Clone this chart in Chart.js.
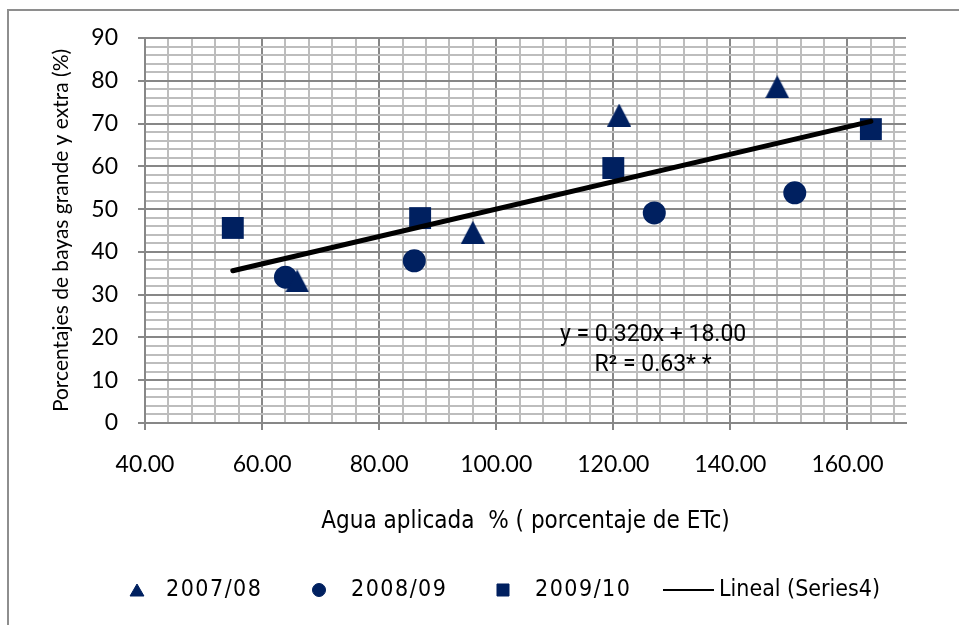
<!DOCTYPE html>
<html><head><meta charset="utf-8">
<script src="https://cdn.jsdelivr.net/npm/chart.js@4.4.1/dist/chart.umd.min.js"></script>
<style>html,body{margin:0;padding:0;background:#fff;overflow:hidden}canvas{display:block}</style>
</head><body>
<canvas id="c" width="959" height="625"></canvas>
<script>
// ---- data ----
const seriesNames = ['2007/08', '2008/09', '2009/10', 'Lineal (Series4)'];
const x0708 = [66, 96, 121, 148];
const y0708 = [33.2, 44.6, 72, 78.6];
const x0809 = [64, 86, 127, 151];
const y0809 = [34.1, 37.9, 49.1, 53.8];
const x0910 = [55, 87, 120, 164];
const y0910 = [45.6, 47.9, 59.6, 68.7];
const trendX = [55, 164];
const trendY = [35.6, 70.5];
const xTickLabels = ['40.00', '60.00', '80.00', '100.00', '120.00', '140.00', '160.00'];
const yTickLabels = ['0', '10', '20', '30', '40', '50', '60', '70', '80', '90'];
const equationLines = ['y = 0.320x + 18.00', 'R\u00B2 = 0.63* *'];
const xTitle = 'Agua aplicada  % ( porcentaje de ETc)';
const yTitle = 'Porcentajes de bayas grande y extra (%)';

const NAVY = '#002060';
const MAJOR = '#878787';
const MINOR = '#bdbdbd';

function pts(xs, ys) { return xs.map((x, i) => ({x: x, y: ys[i]})); }

// Excel-like triangle marker, centred on its bounding box
function triangleMarker(w, h) {
  const cv = document.createElement('canvas');
  cv.width = w; cv.height = h;
  const g = cv.getContext('2d');
  g.fillStyle = NAVY;
  g.beginPath();
  g.moveTo(w / 2, 0);
  g.lineTo(w, h);
  g.lineTo(0, h);
  g.closePath();
  g.fill();
  return cv;
}
const triImg = triangleMarker(24, 23);

const isMajorX = v => Math.abs(v % 20) < 1e-6;
const isMajorY = v => Math.abs(v % 10) < 1e-6;

const frame = {
  id: 'frame',
  beforeDraw(chart) {
    const ctx = chart.ctx;
    ctx.save();
    ctx.fillStyle = '#fff';
    ctx.fillRect(0, 0, chart.width, chart.height);
    ctx.strokeStyle = '#8e8e8e';
    ctx.lineWidth = 2;
    ctx.strokeRect(8, 10, 2000, 2000);
    ctx.restore();
  }
};

const equation = {
  id: 'equation',
  afterDatasetsDraw(chart) {
    const ctx = chart.ctx;
    const xs = chart.scales.x, ys = chart.scales.y;
    const cx = xs.getPixelForValue(126.8);
    const cy = ys.getPixelForValue(20.6);
    ctx.save();
    ctx.fillStyle = '#000';
    ctx.font = '23px Roboto';
    ctx.textAlign = 'center';
    ctx.textBaseline = 'middle';
    ctx.fillText(equationLines[0], cx, cy);
    ctx.fillText(equationLines[1], cx, cy + 30);
    ctx.restore();
  }
};

const legendPlugin = {
  id: 'customLegend',
  afterDraw(chart) {
    const ctx = chart.ctx;
    const y = 590;
    const items = [
      {style: 'triangle', r: 8, mx: 137, tx: 166},
      {style: 'circle', r: 6.5, mx: 319, tx: 351},
      {style: 'rect', r: 8.5, mx: 503, tx: 535},
      {style: 'line', mx: 663, tx: 719}
    ];
    ctx.save();
    items.forEach((it, i) => {
      if (it.style === 'line') {
        ctx.strokeStyle = '#000';
        ctx.lineWidth = 2;
        ctx.beginPath();
        ctx.moveTo(it.mx, y);
        ctx.lineTo(it.mx + 51, y);
        ctx.stroke();
      } else {
        ctx.fillStyle = NAVY;
        ctx.strokeStyle = NAVY;
        ctx.lineWidth = 1;
        Chart.helpers.drawPoint(ctx, {pointStyle: it.style, radius: it.r, rotation: 0, borderWidth: 1}, it.mx, y + (it.style === 'triangle' ? 2 : 0));
      }
      ctx.fillStyle = '#000';
      ctx.font = '23px "DejaVu Sans Condensed"';
      ctx.letterSpacing = i < 3 ? '1.5px' : '0px';
      ctx.textAlign = 'left';
      ctx.textBaseline = 'middle';
      ctx.fillText(seriesNames[i], it.tx, y);
    });
    ctx.restore();
  }
};

new Chart(document.getElementById('c'), {
  type: 'scatter',
  data: {
    datasets: [
      {label: seriesNames[3], type: 'line', data: pts(trendX, trendY), borderColor: '#000', borderWidth: 5,
       borderCapStyle: 'round', pointRadius: 0, fill: false, showLine: true, order: 0},
      {label: seriesNames[0], data: pts(x0708, y0708), pointStyle: triImg, pointRadius: 12,
       backgroundColor: NAVY, borderColor: NAVY, borderWidth: 0, order: 1},
      {label: seriesNames[1], data: pts(x0809, y0809), pointStyle: 'circle', pointRadius: 11.5,
       backgroundColor: NAVY, borderColor: NAVY, borderWidth: 0, order: 1},
      {label: seriesNames[2], data: pts(x0910, y0910), pointStyle: 'rect', pointRadius: 15.5,
       backgroundColor: NAVY, borderColor: NAVY, borderWidth: 0, order: 1}
    ]
  },
  options: {
    responsive: false,
    animation: false,
    devicePixelRatio: 1,
    layout: {padding: {top: 38, right: 53, bottom: 60, left: 0}},
    plugins: {legend: {display: false}, tooltip: {enabled: false}},
    elements: {point: {hoverRadius: 0}},
    scales: {
      x: {
        type: 'linear', min: 40, max: 170,
        afterFit(s) { s.height = 142; },
        ticks: {
          stepSize: 4, autoSkip: false, maxRotation: 0, includeBounds: false,
          color: '#000', font: {family: 'Lato', size: 23}, padding: 21,
          callback: v => isMajorX(v) ? xTickLabels[(v - 40) / 20] : ''
        },
        grid: {
          color: c => (c.tick && isMajorX(c.tick.value)) ? MAJOR : MINOR,
          lineWidth: 2, tickLength: 7,
          tickColor: c => (c.tick && isMajorX(c.tick.value)) ? MAJOR : 'rgba(0,0,0,0)'
        },
        border: {color: MAJOR, width: 2},
        title: {display: true, text: xTitle, color: '#000',
          font: {family: '"DejaVu Sans Condensed"', size: 24, lineHeight: 1.2},
          padding: {top: 0, bottom: 29}}
      },
      y: {
        type: 'linear', min: 0, max: 90,
        afterFit(s) { s.width = 145; },
        ticks: {
          stepSize: 2, autoSkip: false, includeBounds: false,
          color: '#000', font: {family: 'Lato', size: 23}, padding: 20,
          callback: v => isMajorY(v) ? yTickLabels[v / 10] : ''
        },
        grid: {
          color: c => (c.tick && isMajorY(c.tick.value)) ? MAJOR : MINOR,
          lineWidth: 2, tickLength: 7,
          tickColor: c => (c.tick && isMajorY(c.tick.value)) ? MAJOR : 'rgba(0,0,0,0)'
        },
        border: {color: MAJOR, width: 2},
        title: {display: true, text: yTitle, color: '#000',
          font: {family: 'Lato', size: 21, lineHeight: 1.2},
          padding: {top: 49, bottom: 0}}
      }
    }
  },
  plugins: [frame, equation, legendPlugin]
});
</script>
</body></html>
